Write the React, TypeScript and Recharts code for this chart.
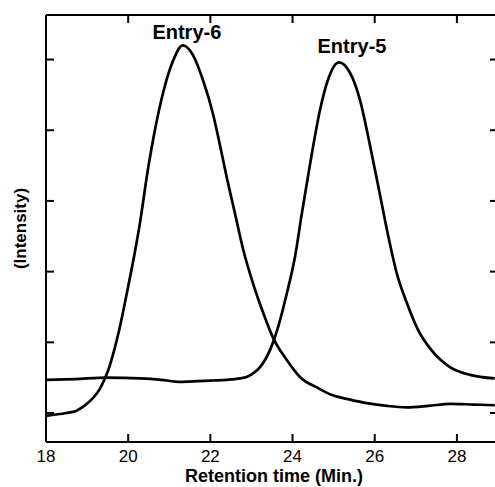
import { LineChart, Line, XAxis, YAxis, ReferenceDot, Label } from "recharts";

// retention time (min) and intensity (arb. units)
const entry6Time = [
  18.0, 18.49, 18.73, 18.93, 19.14, 19.3, 19.42, 19.54, 19.66, 19.78, 20.0, 20.17, 20.29,
  20.46, 20.65, 20.85, 21.07, 21.33, 21.58, 21.82, 22.06, 22.2, 22.4, 22.6, 22.8, 23.04,
  23.29, 23.53, 23.86, 24.18, 24.63, 24.98, 25.4, 25.81, 26.3, 26.78, 27.3, 27.83, 28.4,
  28.92,
];
const entry6Intensity = [
  -0.04, 0.0, 0.03, 0.1, 0.21, 0.33, 0.47, 0.65, 0.89, 1.17, 1.79, 2.3, 2.7,
  3.37, 4.0, 4.53, 4.95, 5.2, 5.06, 4.71, 4.24, 3.88, 3.33, 2.82, 2.31, 1.83,
  1.41, 1.06, 0.75, 0.51, 0.35, 0.25, 0.19, 0.14, 0.1, 0.08, 0.1, 0.13, 0.12,
  0.11,
];

const entry5Time = [
  18.0, 18.7, 19.48, 20.29, 20.8, 21.26, 21.7, 22.06, 22.4, 22.72, 22.88, 23.04, 23.21,
  23.45, 23.65, 23.86, 24.06, 24.22, 24.42, 24.67, 24.86, 25.13, 25.4, 25.64, 25.88,
  26.13, 26.33, 26.53, 26.78, 27.06, 27.38, 27.83, 28.32, 28.92,
];
const entry5Intensity = [
  0.47, 0.48, 0.5, 0.49, 0.47, 0.44, 0.45, 0.46, 0.47, 0.49, 0.51, 0.56, 0.65,
  0.89, 1.22, 1.69, 2.21, 2.8, 3.5, 4.29, 4.71, 4.96, 4.81, 4.43, 3.8,
  3.08, 2.5, 1.99, 1.56, 1.17, 0.89, 0.65, 0.54, 0.49,
];

const xTicks = [18, 20, 22, 24, 26, 28];
const yTicks = [0, 1, 2, 3, 4, 5];

const entry6 = entry6Time.map((t, i) => ({ t, v: entry6Intensity[i] }));
const entry5 = entry5Time.map((t, i) => ({ t, v: entry5Intensity[i] }));

const peak = (d: { t: number; v: number }[]) =>
  d.reduce((a, b) => (b.v > a.v ? b : a), d[0]);

const FONT = "'Liberation Sans', Arial, sans-serif";
const TICK_LEN = 8;

const BottomTick = (p: any) => (
  <g>
    <line x1={p.x} x2={p.x} y1={p.y} y2={p.y - TICK_LEN} stroke="#000" strokeWidth={2} />
    <text x={p.x} y={p.y + 8} dy="0.71em" textAnchor="middle" fontSize={17} fontFamily={FONT} fill="#000">
      {p.payload.value}
    </text>
  </g>
);
const TopTick = (p: any) => (
  <line x1={p.x} x2={p.x} y1={p.y} y2={p.y + TICK_LEN} stroke="#000" strokeWidth={2} />
);
const LeftTick = (p: any) => (
  <line x1={p.x} x2={p.x + TICK_LEN} y1={p.y} y2={p.y} stroke="#000" strokeWidth={2} />
);
const RightTick = (p: any) => (
  <line x1={p.x} x2={p.x - TICK_LEN} y1={p.y} y2={p.y} stroke="#000" strokeWidth={2} />
);

export default function App() {
  const p6 = peak(entry6);
  const p5 = peak(entry5);
  const axisLine = { stroke: "#000", strokeWidth: 2 };
  return (
    <div style={{ position: "fixed", left: 0, top: 0, width: 495, height: 487, overflow: "hidden", background: "#fff" }}>
      <LineChart width={500} height={487} margin={{ top: 0, right: 0, bottom: 0, left: 0 }}>
        <XAxis
          xAxisId="b"
          dataKey="t"
          type="number"
          domain={[18, 29]}
          ticks={xTicks}
          interval={0}
          allowDataOverflow
          height={45}
          stroke="#000"
          tickSize={0}
          tickMargin={0}
          tickLine={false}
          axisLine={axisLine}
          tick={BottomTick}
        >
          <Label
            value="Retention time (Min.)"
            position="insideBottom"
            offset={5}
            dx={2}
            style={{ fontSize: 18, fontWeight: "bold", fontFamily: FONT, fill: "#000" }}
          />
        </XAxis>
        <XAxis
          xAxisId="top"
          orientation="top"
          dataKey="t"
          type="number"
          domain={[18, 29]}
          ticks={xTicks}
          interval={0}
          allowDataOverflow
          height={15}
          stroke="#000"
          tickSize={0}
          tickMargin={0}
          tickLine={false}
          axisLine={axisLine}
          tick={TopTick}
        />
        <YAxis
          yAxisId="l"
          type="number"
          domain={[-0.41, 5.63]}
          ticks={yTicks}
          interval={0}
          allowDataOverflow
          width={46}
          stroke="#000"
          tickSize={0}
          tickMargin={0}
          tickLine={false}
          axisLine={axisLine}
          tick={LeftTick}
        >
          <Label
            value="(Intensity)"
            angle={-90}
            position="center"
            dx={-3}
            style={{ fontSize: 17, fontWeight: "bold", fontFamily: FONT, fill: "#000", textAnchor: "middle" }}
          />
        </YAxis>
        <YAxis
          yAxisId="r"
          orientation="right"
          type="number"
          domain={[-0.41, 5.63]}
          ticks={yTicks}
          interval={0}
          allowDataOverflow
          width={2}
          stroke="#000"
          tickSize={0}
          tickMargin={0}
          tickLine={false}
          axisLine={axisLine}
          tick={RightTick}
        />
        <Line
          xAxisId="b"
          yAxisId="l"
          data={entry6}
          dataKey="v"
          type="monotone"
          stroke="#000"
          strokeWidth={2.7}
          dot={false}
          isAnimationActive={false}
        />
        <Line
          xAxisId="b"
          yAxisId="l"
          data={entry5}
          dataKey="v"
          type="monotone"
          stroke="#000"
          strokeWidth={2.7}
          dot={false}
          isAnimationActive={false}
        />
        <ReferenceDot xAxisId="b" yAxisId="l" x={p6.t} y={p6.v} r={0} stroke="none" fill="none">
          <Label
            value="Entry-6"
            position="top"
            offset={6}
            dx={4}
            style={{ fontSize: 20, fontWeight: "bold", fontFamily: FONT, fill: "#000" }}
          />
        </ReferenceDot>
        <ReferenceDot xAxisId="b" yAxisId="l" x={p5.t} y={p5.v} r={0} stroke="none" fill="none">
          <Label
            value="Entry-5"
            position="top"
            offset={9}
            dx={13}
            style={{ fontSize: 20, fontWeight: "bold", fontFamily: FONT, fill: "#000" }}
          />
        </ReferenceDot>
      </LineChart>
    </div>
  );
}
